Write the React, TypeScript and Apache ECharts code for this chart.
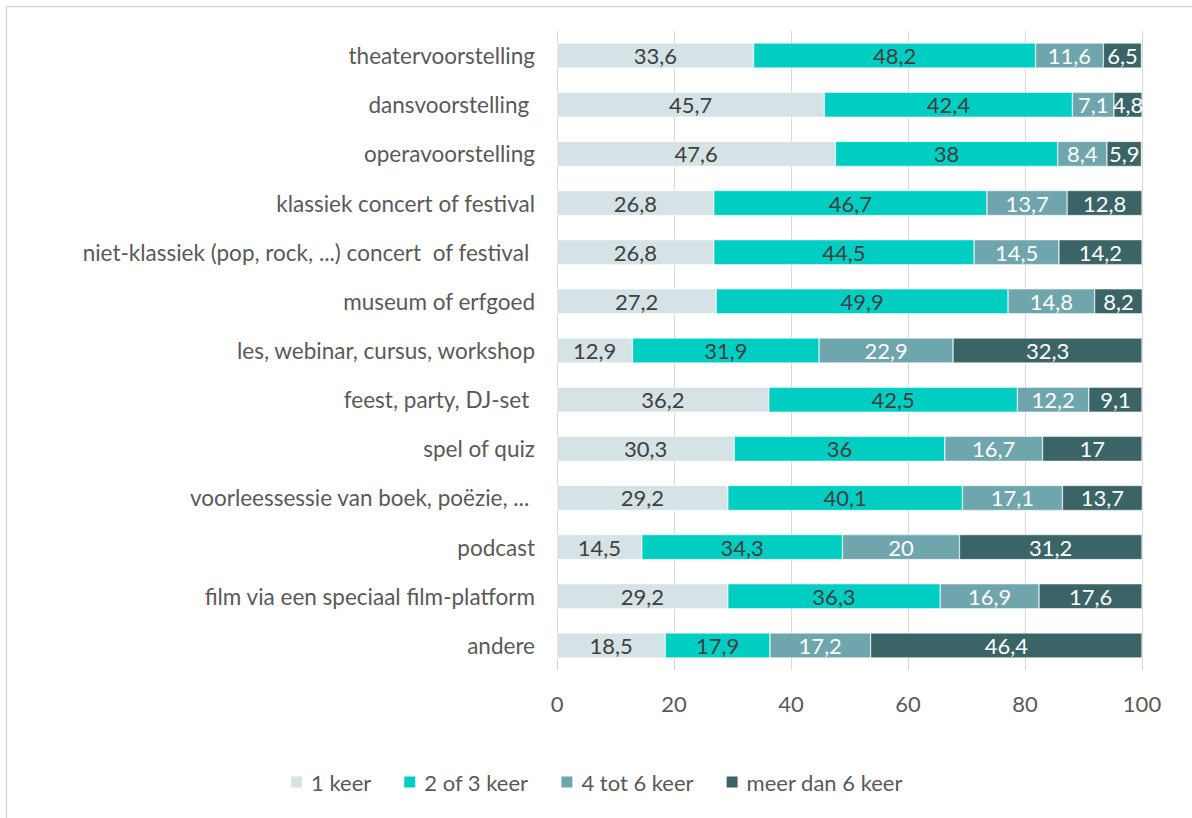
import React, { useEffect, useRef } from "react";
import * as echarts from "echarts";

const categories = [
  "theatervoorstelling",
  "dansvoorstelling ",
  "operavoorstelling",
  "klassiek concert of festival",
  "niet-klassiek (pop, rock, ...) concert  of festival ",
  "museum of erfgoed",
  "les, webinar, cursus, workshop",
  "feest, party, DJ-set ",
  "spel of quiz",
  "voorleessessie van boek, poëzie, ... ",
  "podcast",
  "film via een speciaal film-platform",
  "andere",
];

const seriesNames = ["1 keer", "2 of 3 keer", "4 tot 6 keer", "meer dan 6 keer"];

const keer1 = [33.6, 45.7, 47.6, 26.8, 26.8, 27.2, 12.9, 36.2, 30.3, 29.2, 14.5, 29.2, 18.5];
const keer2of3 = [48.2, 42.4, 38, 46.7, 44.5, 49.9, 31.9, 42.5, 36, 40.1, 34.3, 36.3, 17.9];
const keer4tot6 = [11.6, 7.1, 8.4, 13.7, 14.5, 14.8, 22.9, 12.2, 16.7, 17.1, 20, 16.9, 17.2];
const meerDan6 = [6.5, 4.8, 5.9, 12.8, 14.2, 8.2, 32.3, 9.1, 17, 13.7, 31.2, 17.6, 46.4];

const xTicks = { min: 0, max: 100, interval: 20 };

const colors = ["#d5e2e6", "#00cec3", "#6fa6ad", "#3a6466"];
const labelColors = ["#404040", "#404040", "#ffffff", "#ffffff"];

export default function App() {
  const ref = useRef<HTMLDivElement>(null);

  useEffect(() => {
    if (!ref.current) return;
    const chart = echarts.init(ref.current, undefined, { renderer: "svg" });
    const font = "Lato, 'Noto Sans', sans-serif";
    const data = [keer1, keer2of3, keer4tot6, meerDan6];
    chart.setOption({
      animation: false,
      textStyle: { fontFamily: font },
      grid: { left: 557, right: 50, top: 31, bottom: 148, containLabel: false },
      graphic: [
        {
          type: "polyline",
          shape: { points: [[6.5, 830], [6.5, 6.5], [1200, 6.5]] },
          style: { stroke: "#d9d9d9", lineWidth: 1.5, fill: "none" },
          silent: true,
        },
      ],
      legend: {
        bottom: 20,
        left: "center",
        icon: "rect",
        itemWidth: 13,
        itemHeight: 13,
        itemGap: 31,
        textStyle: { fontSize: 22, color: "#595959", fontFamily: font, padding: [0, 0, 0, 3] },
        data: seriesNames,
      },
      xAxis: {
        type: "value",
        min: xTicks.min,
        max: xTicks.max,
        interval: xTicks.interval,
        axisLine: { show: false },
        axisTick: { show: false },
        axisLabel: { fontSize: 22, color: "#595959", margin: 22, fontFamily: font },
        splitLine: { show: true, lineStyle: { color: "#d9d9d9", width: 1 } },
      },
      yAxis: {
        type: "category",
        inverse: true,
        data: categories,
        axisLine: { show: false },
        axisTick: { show: false },
        axisLabel: { fontSize: 22.5, color: "#595959", margin: 22, fontFamily: font },
      },
      series: seriesNames.map((name, i) => ({
        name,
        type: "bar",
        stack: "total",
        barWidth: 25,
        data: data[i],
        itemStyle: { color: colors[i], borderColor: "#ffffff", borderWidth: 0.5 },
        label: {
          show: true,
          position: "inside",
          fontSize: 22,
          color: labelColors[i],
          fontFamily: font,
          formatter: (p: any) => String(p.value).replace(".", ","),
        },
      })),
    });
    return () => chart.dispose();
  }, []);

  return (
    <div
      ref={ref}
      style={{ position: "fixed", left: 0, top: 0, width: 1192, height: 818, background: "#fff" }}
    />
  );
}
